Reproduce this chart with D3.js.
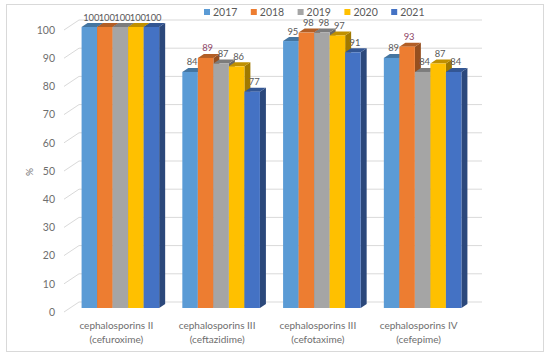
<!DOCTYPE html>
<html><head><meta charset="utf-8">
<script src="https://cdn.jsdelivr.net/npm/d3@7/dist/d3.min.js"></script>
<style>body{margin:0;background:#fff}svg{display:block}text{font-family:Lato,"Open Sans",sans-serif}</style>
</head><body><svg id="c" width="550" height="359"></svg>
<script>
const categories = [["cephalosporins II","(cefuroxime)"],["cephalosporins III","(ceftazidime)"],["cephalosporins III","(cefotaxime)"],["cephalosporins IV","(cefepime)"]];
const series = ["2017","2018","2019","2020","2021"];
const colors = ["#5B9BD5","#ED7D31","#A5A5A5","#FFC000","#4472C4"];
const values = [
  [100,100,100,100,100],
  [84,89,87,86,77],
  [95,98,98,97,91],
  [89,93,84,87,84]
];
const labelColors = [
  ["#595959","#595959","#595959","#595959","#595959"],
  ["#595959","#8E4566","#595959","#595959","#595959"],
  ["#595959","#595959","#595959","#595959","#595959"],
  ["#595959","#8E4566","#595959","#595959","#595959"]
];
const ticks = [0,10,20,30,40,50,60,70,80,90,100];

const svg = d3.select("#c");
svg.append("rect").attr("x",6.5).attr("y",4.5).attr("width",537).attr("height",347)
  .attr("fill","#fff").attr("stroke","#D9D9D9");

const yBar = d3.scaleLinear().domain([0,100]).range([308,27]);
const yFront = d3.scaleLinear().domain([0,100]).range([312,30]);
const yBack = d3.scaleLinear().domain([0,100]).range([302,20]);
const x0 = d3.scaleBand().domain(d3.range(categories.length)).range([70,473]).paddingInner(0.23).paddingOuter(0.115);
const x1 = d3.scaleBand().domain(series).range([0,x0.bandwidth()]);
const dx = 6, dy = 4;

const grid = svg.append("g").attr("stroke","#D9D9D9").attr("fill","none");
ticks.forEach(t=>{
  grid.append("path").attr("d",`M64,${yFront(t)}L79,${yBack(t)}L482,${yBack(t)}`);
});

const ax = svg.append("g").attr("transform","translate(57,0)")
  .call(d3.axisLeft(yFront).tickValues(ticks).tickSize(0).tickPadding(2));
ax.select(".domain").remove();
ax.selectAll("text").attr("font-size",10.5).attr("fill","#6E6E6E").style("font-family","Lato,'Open Sans',sans-serif");

svg.append("text").attr("transform","translate(33,172) rotate(-90)").attr("text-anchor","middle")
  .attr("font-size",10).attr("fill","#6E6E6E").text("%");

const bars = svg.append("g");
values.forEach((row,ci)=>{
  const g = bars.append("g").attr("transform",`translate(${x0(ci)},0)`);
  row.forEach((v,si)=>{
    const x = x1(series[si]), w = x1.bandwidth();
    const yt = yBar(v), yb = yBar(0);
    const c = d3.color(colors[si]);
    g.append("path").attr("d",`M${x+w},${yt}L${x+w+dx},${yt-dy}L${x+w+dx},${yb-dy}L${x+w},${yb}Z`)
      .attr("fill",c.darker(1.3));
    g.append("path").attr("d",`M${x},${yt}L${x+dx},${yt-dy}L${x+w+dx},${yt-dy}L${x+w},${yt}Z`)
      .attr("fill",c.darker(0.8));
    g.append("rect").attr("x",x).attr("y",yt).attr("width",w).attr("height",yb-yt).attr("fill",colors[si]);
  });
  row.forEach((v,si)=>{
    const x = x1(series[si]), w = x1.bandwidth();
    g.append("text").attr("x",x+w/2+2).attr("y",yBar(v)-6.5).attr("text-anchor","middle")
      .attr("font-size",9.4).attr("fill",labelColors[ci][si]).text(v);
  });
});

categories.forEach((lines,ci)=>{
  const cx = x0(ci)+x0.bandwidth()/2-4;
  lines.forEach((s,li)=>{
    svg.append("text").attr("x",cx).attr("y",328.5+li*14).attr("text-anchor","middle")
      .attr("font-size",10).attr("fill","#6E6E6E").text(s);
  });
});

const leg = svg.append("g");
series.forEach((s,i)=>{
  const lx = 204 + i*46.8;
  leg.append("rect").attr("x",lx).attr("y",9).attr("width",6).attr("height",6).attr("fill",colors[i]);
  leg.append("text").attr("x",lx+9).attr("y",16).attr("font-size",10.5).attr("fill","#595959").text(s);
});
</script></body></html>
